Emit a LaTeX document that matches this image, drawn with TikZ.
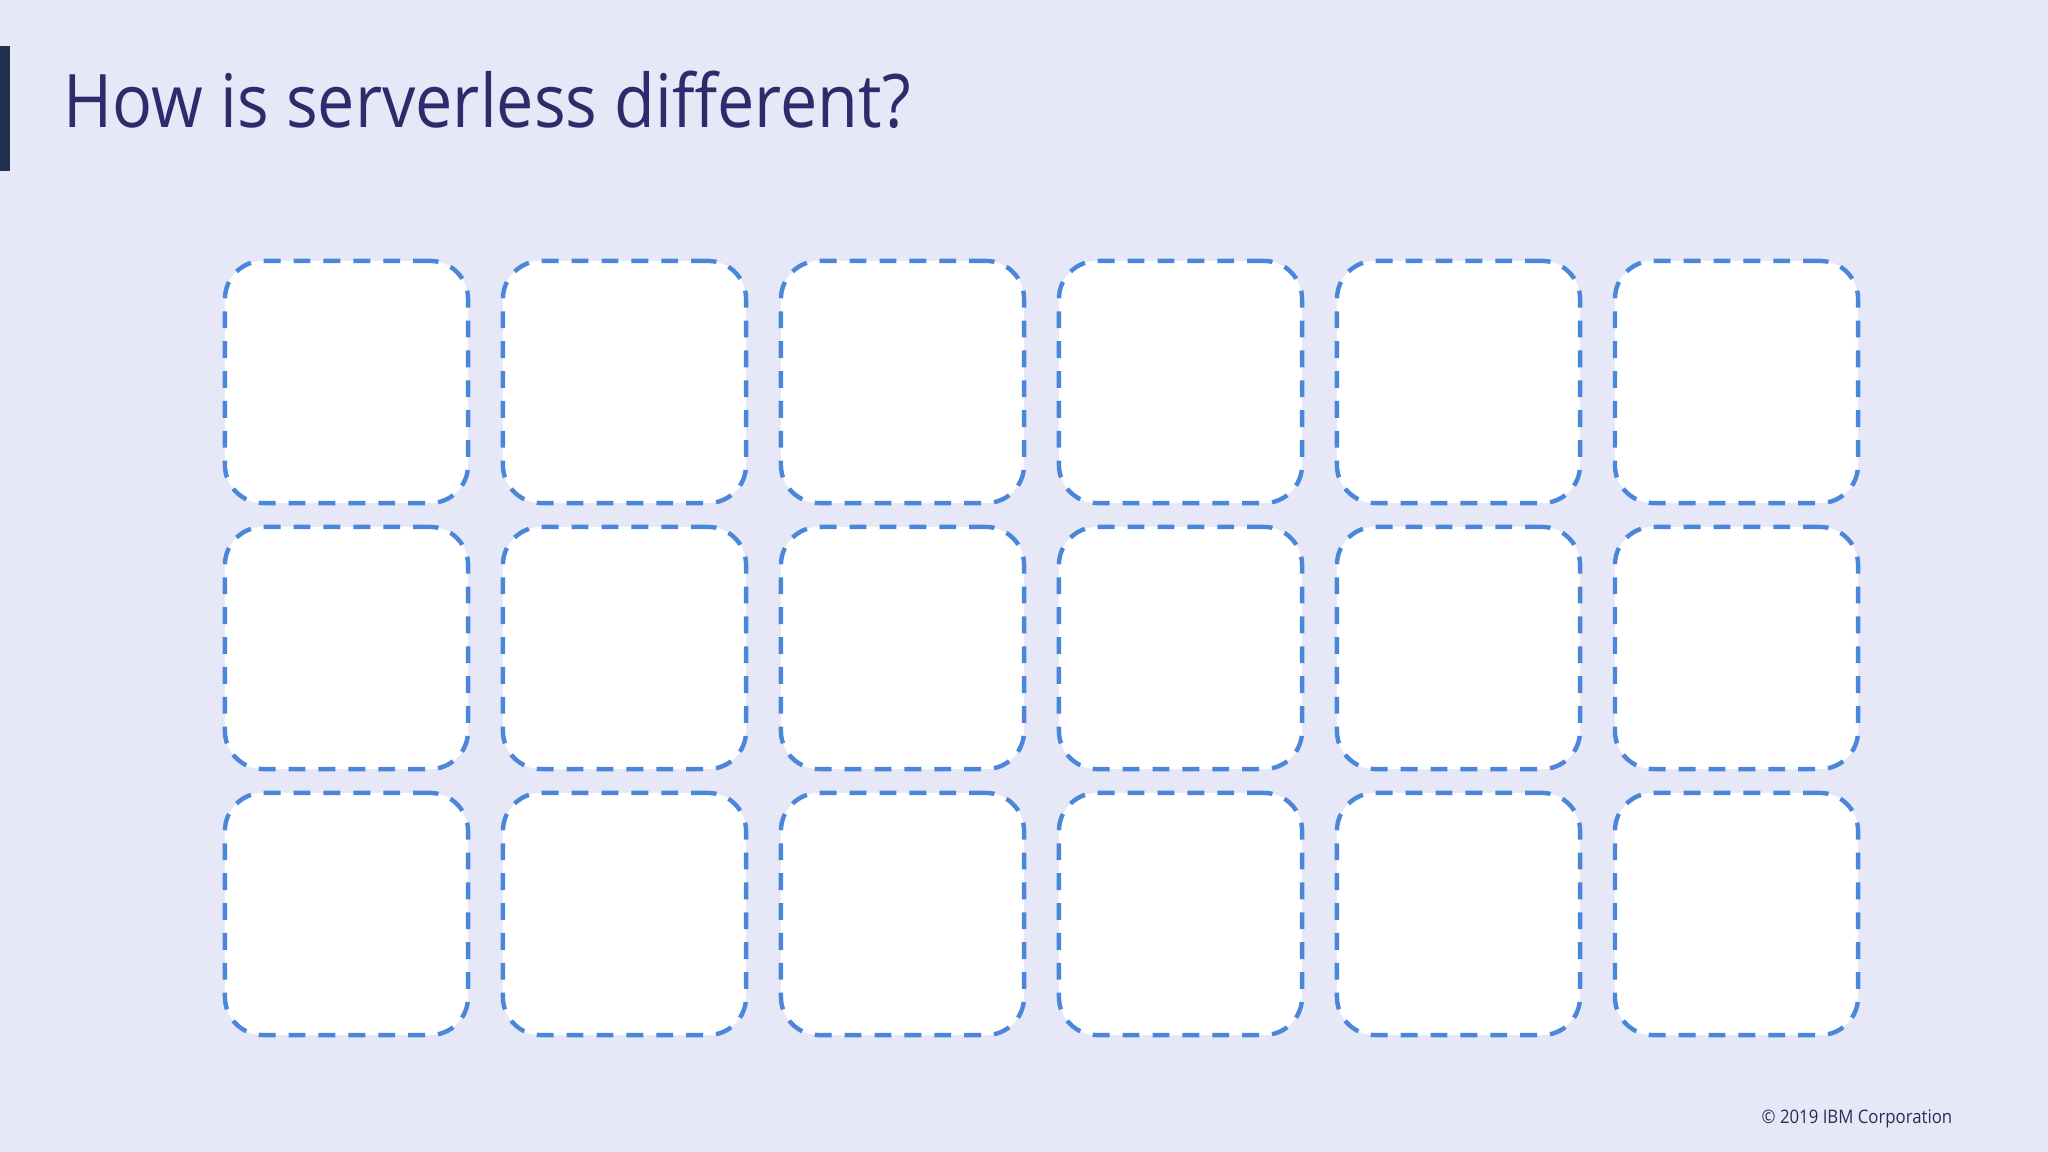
\documentclass[tikz,border=0pt]{standalone}
\usepackage{fontspec}
\setmainfont{Open Sans}
\newfontfamily\narrowfont[FakeStretch=0.9]{Open Sans}
\definecolor{bgc}{HTML}{E6E8F7}
\definecolor{dashc}{HTML}{4A86D9}
\definecolor{titlec}{HTML}{2F2A6B}
\definecolor{barc}{HTML}{22304F}
\definecolor{footc}{HTML}{2D2B55}
\begin{document}
\begin{tikzpicture}[x=0.01cm,y=-0.01cm,
  cell/.style={draw=dashc, fill=white, line width=1.25pt, rounded corners=0.38cm,
    dash pattern=on 4.8pt off 3.7pt, minimum width=2.43cm, minimum height=2.42cm,
    inner sep=0pt, outer sep=0pt},
  titletext/.style={anchor=base west, inner sep=0pt, text=titlec, font=\narrowfont\fontsize{21}{25}\selectfont},
  foottext/.style={anchor=base west, inner sep=0pt, text=footc, font=\narrowfont\fontsize{5.3}{6}\selectfont}]
\fill[bgc] (0,0) rectangle (2048,1152);
\useasboundingbox (0,0) rectangle (2048,1152);
\fill[barc] (0,46) rectangle (10,171);
\node[titletext] (title) at (63,128) {How is serverless different?};
\foreach \r in {0,1,2}{
  \foreach \c in {0,1,2,3,4,5}{
    \node[cell] (b-\r-\c) at ({346.5+278*\c},{382+266*\r}) {};
  }
}
\node[foottext] (foot) at (1761,1123) {© 2019 IBM Corporation};
\end{tikzpicture}
\end{document}
